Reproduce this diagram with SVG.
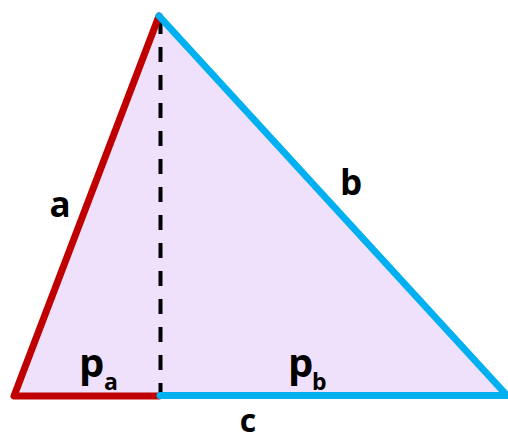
<svg xmlns="http://www.w3.org/2000/svg" width="508" height="441" viewBox="0 0 508 441">
<style>
.lbl{font-family:"Open Sans","Liberation Sans",sans-serif;font-weight:bold;fill:#000}
.red{fill:none;stroke:#c00000;stroke-width:7;stroke-linecap:round;stroke-linejoin:round}
.blue{fill:none;stroke:#00b0f0;stroke-width:7;stroke-linecap:round;stroke-linejoin:miter}
.dash{stroke:#000;stroke-width:4;stroke-dasharray:15 13}
</style>
<rect width="508" height="441" fill="#fff"/>
<g id="triangle">
<polygon points="14,396 159,16 507,395.5" fill="#efe1fc"/>
</g>
<g id="connectors">
<line class="dash" x1="160.5" y1="19" x2="160.5" y2="396"/>
<polyline class="red" points="159,16 14,396 159,396"/>
<polyline class="blue" points="160,395.5 507,395.5 159,16"/>
</g>
<g id="labels">
<text class="lbl" x="60" y="217" font-size="35" text-anchor="middle">a</text>
<text class="lbl" x="351" y="195" font-size="35" text-anchor="middle">b</text>
<text class="lbl" x="248" y="432" font-size="32" text-anchor="middle">c</text>
<text class="lbl" font-size="40"><tspan x="79" y="377">p</tspan><tspan x="104" y="390" font-size="23">a</tspan></text>
<text class="lbl" font-size="40"><tspan x="288" y="377">p</tspan><tspan x="312" y="390" font-size="23">b</tspan></text>
</g>
</svg>
